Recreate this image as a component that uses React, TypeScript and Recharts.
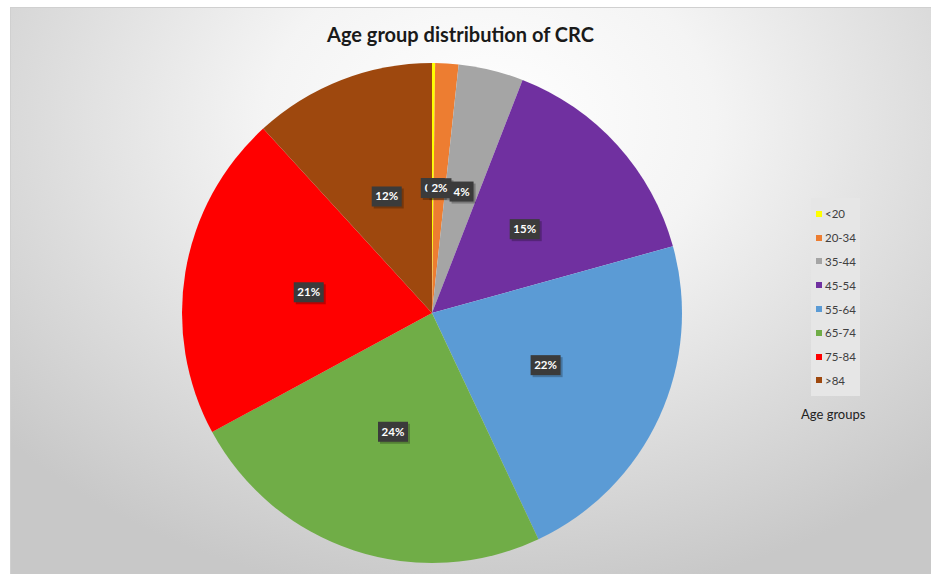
import { Pie, PieChart, Cell, Legend } from "recharts";

const ageGroups = ["<20", "20-34", "35-44", "45-54", "55-64", "65-74", "75-84", ">84"];
const shares = [0.2, 1.5, 4.2, 14.8, 22.3, 24.1, 21.1, 11.8];
const sliceColors = ["#ffff00", "#ed7d31", "#a5a5a5", "#7030a0", "#5b9bd5", "#70ad47", "#ff0000", "#9e480e"];

const data = ageGroups.map((name, i) => ({ name, value: shares[i] }));
const RADIAN = Math.PI / 180;

function renderLabel(props: any) {
  const { cx, cy, midAngle, outerRadius, percent } = props;
  const r = outerRadius * 0.5;
  const x = cx + r * Math.cos(-midAngle * RADIAN);
  const y = cy + r * Math.sin(-midAngle * RADIAN);
  const text = `${Math.round(percent * 100)}%`;
  const w = text.length > 2 ? 30 : 24;
  return (
    <g>
      <rect x={x - w / 2 + 2} y={y - 10 + 2} width={w} height={20} fill="#000" opacity={0.25} />
      <rect x={x - w / 2} y={y - 10} width={w} height={20} fill="#3b3b3b" />
      <text x={x} y={y + 4} textAnchor="middle" fill="#fff" fontSize={11.5} fontWeight={700} fontFamily="Lato, sans-serif">
        {text}
      </text>
    </g>
  );
}

function AgeLegend() {
  return (
    <div style={{ fontFamily: "Lato, sans-serif" }}>
      <div style={{ background: "#e6e6e6", width: 44, padding: "4px 0 4px 5px" }}>
        {ageGroups.map((name, i) => (
          <div key={name} style={{ display: "flex", alignItems: "center", height: 23.8, fontSize: 11.5, color: "#404040" }}>
            <span style={{ width: 6, height: 6, background: sliceColors[i], marginRight: 3 }} />
            {name}
          </div>
        ))}
      </div>
      <div style={{ marginTop: 10, marginLeft: -10, fontSize: 13, color: "#222" }}>Age groups</div>
    </div>
  );
}

export default function App() {
  return (
    <div style={{ position: "absolute", left: 0, top: 0, width: 931, height: 574, background: "#fff", overflow: "hidden" }}>
      <div
        style={{
          position: "absolute",
          left: 10,
          top: 7,
          width: 921,
          height: 567,
          borderTop: "1px solid #d0d0d0",
          borderLeft: "1px solid #d0d0d0",
          background: "radial-gradient(ellipse 70% 85% at 52% 20%, #ffffff 0%, #f4f4f4 35%, #dcdcdc 70%, #c8c8c8 100%)",
        }}
      />
      <div
        style={{
          position: "absolute",
          left: 0,
          top: 22,
          width: 921,
          textAlign: "center",
          fontFamily: "Lato, sans-serif",
          fontWeight: 700,
          fontSize: 20,
          color: "#1a1a1a",
        }}
      >
        Age group distribution of CRC
      </div>
      <div style={{ position: "absolute", left: 0, top: 0 }}>
        <PieChart width={931} height={574} margin={{ top: 0, right: 0, bottom: 0, left: 0 }}>
          <Pie
            data={data}
            dataKey="value"
            nameKey="name"
            cx={432}
            cy={313}
            outerRadius={250}
            startAngle={90}
            endAngle={-270}
            stroke="none"
            label={renderLabel}
            labelLine={false}
            isAnimationActive={false}
          >
            {data.map((entry, index) => (
              <Cell key={entry.name} fill={sliceColors[index]} />
            ))}
          </Pie>
          <Legend
            layout="vertical"
            content={() => <AgeLegend />}
            wrapperStyle={{ position: "absolute", left: 811, top: 198, width: 80 }}
          />
        </PieChart>
      </div>
    </div>
  );
}
